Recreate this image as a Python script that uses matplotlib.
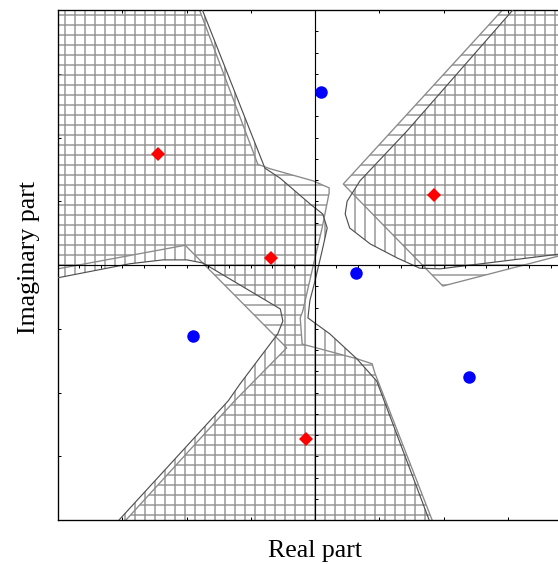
import numpy as np
import matplotlib.pyplot as plt

# eigenvalues of the two systems
red_re = [-2.44, -0.68, 1.85, -0.14]
red_im = [1.74, 0.11, 1.10, -2.73]
blue_re = [0.09, 0.64, -1.90, 2.40]
blue_im = [2.71, -0.13, -1.11, -1.76]

# region 1 (vertical hatching), curved boundary
r1_left_re = [-4.44, -1.87, -0.78, -0.54, -0.31, -0.08, 0.12, 0.19, 0.11, 0.00, -0.08,
              -0.11, 0.23, 0.65, 0.96, 1.90, -3.35, -1.35, -1.17, -0.58, -0.50, -0.54,
              -1.74, -1.99, -2.37, -2.88, -4.00, -4.44]
r1_left_im = [4.30, 4.30, 1.52, 1.36, 1.16, 0.96, 0.80, 0.58, 0.22, -0.25, -0.56,
              -0.83, -1.08, -1.47, -1.82, -4.33, -4.33, -2.13, -1.87, -1.08, -0.88, -0.69,
              0.03, 0.08, 0.08, 0.02, -0.20, -0.28]
r1_right_re = [3.34, 1.43, 0.70, 0.50, 0.47, 0.54, 0.86, 1.28, 1.63, 1.95, 4.44, 4.44]
r1_right_im = [4.30, 2.10, 1.32, 1.00, 0.80, 0.58, 0.33, 0.11, -0.05, -0.06, 0.25, 4.30]

# region 2 (horizontal hatching), polygonal boundary
r2_left_re = [-4.44, -1.91, -0.89, -0.70, -0.03, 0.22, 0.22, 0.11, -0.03, -0.19, -0.23,
              -0.20, 0.65, 0.89, 0.93, 1.95, -3.24, -1.25, -0.44, -2.02, -4.00, -4.44]
r2_left_im = [4.30, 4.30, 1.58, 1.51, 1.32, 1.21, 1.13, 0.58, -0.02, -0.72, -0.83,
              -1.24, -1.47, -1.55, -1.69, -4.33, -4.33, -2.13, -1.30, 0.31, -0.06, -0.14]
r2_right_re = [3.19, 0.44, 1.99, 4.44, 4.44]
r2_right_im = [4.30, 1.27, -0.33, 0.31, 4.30]

hatch_grey = '#8a8a8a'
plt.rcParams['hatch.linewidth'] = 0.8

fig = plt.figure(figsize=(4.65, 4.7), dpi=120)
ax = fig.add_axes([58 / 558, 44 / 564, 514 / 558, 510 / 564])
ax.set_xlim(-4, 4)
ax.set_ylim(-4, 4)

for xs, ys in [(r1_left_re, r1_left_im), (r1_right_re, r1_right_im)]:
    ax.fill(xs, ys, facecolor='none', edgecolor=hatch_grey, hatch='||', linewidth=0, zorder=1)
    ax.plot(xs + xs[:1], ys + ys[:1], color='#505050', lw=0.7, zorder=3)

for xs, ys in [(r2_left_re, r2_left_im), (r2_right_re, r2_right_im)]:
    ax.fill(xs, ys, facecolor='none', edgecolor=hatch_grey, hatch='--', linewidth=0.8, zorder=2)

# axes through the origin with small ticks
ax.axhline(0, color='black', lw=0.7, zorder=4)
ax.axvline(0, color='black', lw=0.7, zorder=4)
minor = np.arange(-12, 13) / 3
ax.plot(minor, np.zeros_like(minor), ls='none', marker=3, ms=2, mew=0.6, color='black', zorder=4)
ax.plot(np.zeros_like(minor), minor, ls='none', marker=1, ms=2, mew=0.6, color='black', zorder=4)

ax.plot(red_re, red_im, ls='none', marker='D', ms=6, mew=0, color='#ff0000', zorder=5)
ax.plot(blue_re, blue_im, ls='none', marker='o', ms=7.5, mew=0, color='#0000ff', zorder=5)

ax.set_xticks(np.arange(-4, 5))
ax.set_yticks(np.arange(-4, 5))
ax.tick_params(direction='in', length=2, width=0.6, top=True, right=True,
               labelbottom=False, labelleft=False)
for side in ax.spines.values():
    side.set_linewidth(0.8)

fig.text(315 / 558, 1 - 551 / 564, 'Real part', ha='center', va='center',
         family='Liberation Serif', fontsize=15.5)
fig.text(29 / 558, 1 - 258 / 564, 'Imaginary part', ha='center', va='center',
         rotation=90, family='Liberation Serif', fontsize=15.5)

fig.savefig('out.png', dpi=120)
